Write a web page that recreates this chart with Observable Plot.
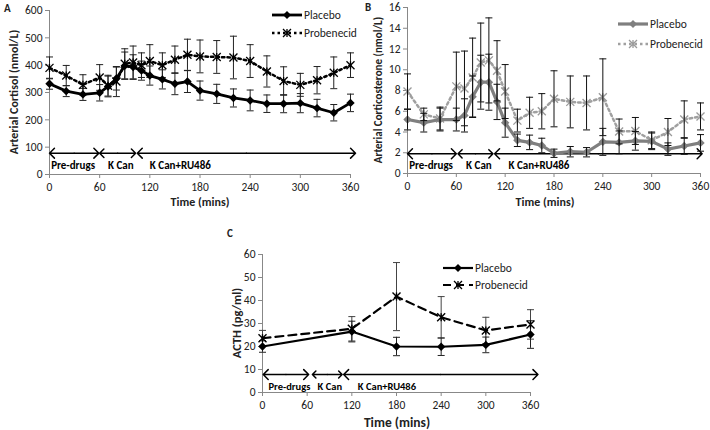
<!DOCTYPE html>
<html><head><meta charset="utf-8">
<script src="https://cdn.jsdelivr.net/npm/d3@7"></script>
<script src="https://cdn.jsdelivr.net/npm/@observablehq/plot@0.6"></script>
<style>
body{margin:0;background:#fff;width:710px;height:430px;position:relative;overflow:hidden;font-family:Carlito,Calibri,Lato,sans-serif;color:#222;}
.abs{position:absolute;}
.ytitle{position:absolute;font-weight:bold;white-space:nowrap;transform:translate(-50%,-50%) rotate(-90deg);}
.xtitle{position:absolute;font-weight:bold;white-space:nowrap;transform:translate(-50%,-50%);}
.letter{position:absolute;font-weight:bold;font-size:11px;}
</style></head><body>
<div id="A" class="abs" style="left:0;top:0"></div>
<div id="B" class="abs" style="left:355px;top:2px"></div>
<div id="C" class="abs" style="left:200px;top:240px"></div>
<div class="letter" style="left:4px;top:2px">A</div>
<div class="letter" style="left:365px;top:1px">B</div>
<div class="letter" style="left:227px;top:227px">C</div>
<div class="ytitle" style="left:14px;top:92px;font-size:12px">Arterial Cortisol (nmol/L)</div>
<div class="ytitle" style="left:378px;top:90px;font-size:11px">Arterial Corticosterone (nmol/L)</div>
<div class="ytitle" style="left:236px;top:323px;font-size:12.5px">ACTH (pg/ml)</div>
<div class="xtitle" style="left:200px;top:202px;font-size:12px">Time (mins)</div>
<div class="xtitle" style="left:545px;top:202px;font-size:12px">Time (mins)</div>
<div class="xtitle" style="left:397px;top:422px;font-size:13.5px">Time (mins)</div>
<script>
// ---------- data ----------
const timesAB = [0,20,40,60,70,80,90,100,110,120,135,150,165,180,200,220,240,260,280,300,320,340,360];
const cortisolPlacebo      = [332,305,293,299,322,351,398,393,380,362,348,332,340,307,295,280,271,259,259,261,243,226,262];
const cortisolPlaceboSE    = [20,20,22,30,38,42,50,45,35,35,35,40,40,35,35,33,38,32,33,35,32,30,32];
const cortisolProbenecid   = [390,362,328,355,325,340,405,410,400,415,400,420,438,432,430,428,415,377,342,328,345,372,400];
const cortisolProbenecidSE = [40,37,37,47,38,55,55,60,45,60,45,50,57,60,60,78,60,57,52,42,50,58,45];

const corticoPlacebo      = [5.2,4.9,5.2,5.2,5.6,7.4,8.8,8.8,6.9,4.9,3.2,3.0,2.7,1.95,2.1,2.05,3.05,3.0,3.15,3.1,2.35,2.65,2.95];
const corticoPlaceboSE    = [1.0,0.9,1.1,1.1,1.6,2.0,2.6,2.7,1.7,1.4,0.6,0.7,0.7,0.4,0.5,0.45,1.3,1.1,0.9,0.8,0.6,0.8,0.8];
const corticoProbenecid   = [7.9,5.7,5.3,8.4,8.2,9.25,10.7,10.9,9.9,7.9,5.1,5.85,6.0,7.2,6.9,6.8,7.35,4.05,4.1,3.2,4.0,5.2,5.5];
const corticoProbenecidSE = [1.7,0.6,1.1,3.3,3.6,3.8,3.8,4.1,2.9,2.6,1.1,1.5,1.7,2.7,2.5,2.6,3.7,1.2,1.3,0.8,1.3,1.8,1.3];

const timesC = [0,120,180,240,300,360];
const acthPlacebo      = [20.0,26.5,20.0,19.9,20.7,25.2];
const acthPlaceboSE    = [2.5,4.5,4.0,3.8,3.4,6.0];
const acthProbenecid   = [23.6,27.7,41.7,32.7,27.0,29.6];
const acthProbenecidSE = [3.4,5.3,14.8,9.0,5.7,6.4];

const phaseNames = ["Pre-drugs","K Can","K Can+RU486"];
const phaseStartA = [0,60,105],  phaseEndA = [59,103,366], phaseLabelA = [2,70,120];
const phaseStartB = [0,62,107],  phaseEndB = [60,105,362], phaseLabelB = [2,72,124];
const phaseStartC = [1,67,109],  phaseEndC = [62,107,370], phaseLabelC = [8,74,128];
const arrowLevelA = 78, arrowLevelB = 1.9, arrowLevelC = 7.8;

const xTicks = [0,60,120,180,240,300,360];
const yTicksA = [0,100,200,300,400,500,600];
const yTicksB = [0,2,4,6,8,10,12,14,16];
const yTicksC = [0,10,20,30,40,50,60];

// ---------- symbols ----------
const rOf = s => Math.sqrt(s/Math.PI);
const starSym = {draw(c,s){const r=rOf(s);c.moveTo(-r,-r);c.lineTo(r,r);c.moveTo(-r,r);c.lineTo(r,-r);c.moveTo(0,-r);c.lineTo(0,r);}};
const capSym  = {draw(c,s){const r=rOf(s);c.moveTo(-r,0);c.lineTo(r,0);}};
const diamSym = {draw(c,s){const r=rOf(s);c.moveTo(0,-r);c.lineTo(r,0);c.lineTo(0,r);c.lineTo(-r,0);c.closePath();}};

function rows(t, v, se){ return t.map((x,i)=>({x, y:v[i], lo:v[i]-se[i], hi:v[i]+se[i]})); }
function phases(start,end,lab,level){
  return phaseNames.map((name,i)=>({name, x1:start[i], x2:end[i], mid:(start[i]+end[i])/2, lx:lab[i], y:level}));
}
function errorMarks(d, color, capR){
  return [
    Plot.ruleX(d,{x:"x",y1:"lo",y2:"hi",stroke:color,strokeWidth:1}),
    Plot.dot(d,{x:"x",y:"hi",symbol:capSym,r:capR,stroke:color,strokeWidth:1}),
    Plot.dot(d,{x:"x",y:"lo",symbol:capSym,r:capR,stroke:color,strokeWidth:1})
  ];
}
function arrowMarks(ph, labelSize){
  return [
    Plot.arrow(ph,{x1:"mid",x2:"x2",y1:"y",y2:"y",stroke:"#000",strokeWidth:1.5,headLength:7,headAngle:90}),
    Plot.arrow(ph,{x1:"mid",x2:"x1",y1:"y",y2:"y",stroke:"#000",strokeWidth:1.5,headLength:7,headAngle:90}),
    Plot.text(ph,{x:"lx",y:"y",text:"name",dy:12,textAnchor:"start",fontWeight:"bold",fontSize:labelSize,fill:"#000"})
  ];
}
function axes(yTicks){
  return [
    Plot.axisX({ticks:xTicks,tickSize:4,tickPadding:4,stroke:"#888",fill:"#222",label:null,fontSize:11.5}),
    Plot.axisY({ticks:yTicks,tickSize:4,tickPadding:3,stroke:"#888",fill:"#222",label:null,fontSize:11.5}),
    Plot.ruleX([0],{stroke:"#888"}),
    Plot.ruleY([0],{stroke:"#888"})
  ];
}
const font = {fontFamily:"Carlito,Calibri,Lato,sans-serif",fontSize:"11px",background:"transparent",overflow:"visible"};

// ---------- Panel A ----------
const aP = rows(timesAB,cortisolPlacebo,cortisolPlaceboSE);
const aR = rows(timesAB,cortisolProbenecid,cortisolProbenecidSE);
document.getElementById("A").append(Plot.plot({
  width:355,height:205,marginLeft:49,marginRight:5,marginTop:10,marginBottom:31,
  style:font,
  x:{domain:[0,360]}, y:{domain:[0,600]},
  marks:[
    ...axes(yTicksA),
    ...arrowMarks(phases(phaseStartA,phaseEndA,phaseLabelA,arrowLevelA),11),
    ...errorMarks(aR,"#222",3.5),
    ...errorMarks(aP,"#222",3.5),
    Plot.line(aR,{x:"x",y:"y",stroke:"#000",strokeWidth:2.5,strokeDasharray:"2.5,3"}),
    Plot.dot(aR,{x:"x",y:"y",symbol:starSym,r:4,stroke:"#000",strokeWidth:1.3}),
    Plot.line(aP,{x:"x",y:"y",stroke:"#000",strokeWidth:2.8}),
    Plot.dot(aP,{x:"x",y:"y",symbol:diamSym,r:4.2,fill:"#000",stroke:"none"})
  ]
}));

// ---------- Panel B ----------
const bP = rows(timesAB,corticoPlacebo,corticoPlaceboSE);
const bR = rows(timesAB,corticoProbenecid,corticoProbenecidSE);
document.getElementById("B").append(Plot.plot({
  width:355,height:198,marginLeft:52,marginRight:10,marginTop:5,marginBottom:27,
  style:font,
  x:{domain:[0,360]}, y:{domain:[0,16]},
  marks:[
    ...axes(yTicksB),
    ...arrowMarks(phases(phaseStartB,phaseEndB,phaseLabelB,arrowLevelB),11),
    Plot.line(bR,{x:"x",y:"y",stroke:"#a0a0a0",strokeWidth:2.5,strokeDasharray:"2.5,3"}),
    Plot.dot(bR,{x:"x",y:"y",symbol:starSym,r:4,stroke:"#9a9a9a",strokeWidth:1.3}),
    Plot.line(bP,{x:"x",y:"y",stroke:"#7f7f7f",strokeWidth:3.2}),
    Plot.dot(bP,{x:"x",y:"y",symbol:diamSym,r:4.2,fill:"#7f7f7f",stroke:"none"}),
    ...errorMarks(bR,"#111",3.5),
    ...errorMarks(bP,"#111",3.5)
  ]
}));

// ---------- Panel C ----------
const cP = rows(timesC,acthPlacebo,acthPlaceboSE);
const cR = rows(timesC,acthProbenecid,acthProbenecidSE);
document.getElementById("C").append(Plot.plot({
  width:340,height:174,marginLeft:62,marginRight:10,marginTop:14,marginBottom:22,
  style:font,
  x:{domain:[0,360]}, y:{domain:[0,60]},
  marks:[
    ...axes(yTicksC),
    ...arrowMarks(phases(phaseStartC,phaseEndC,phaseLabelC,arrowLevelC),10.5),
    ...errorMarks(cR,"#444",3.5),
    ...errorMarks(cP,"#222",3.5),
    Plot.line(cR,{x:"x",y:"y",stroke:"#000",strokeWidth:2.2,strokeDasharray:"8,5"}),
    Plot.dot(cR,{x:"x",y:"y",symbol:starSym,r:4,stroke:"#000",strokeWidth:1.4}),
    Plot.line(cP,{x:"x",y:"y",stroke:"#000",strokeWidth:2.2}),
    Plot.dot(cP,{x:"x",y:"y",symbol:diamSym,r:4.2,fill:"#000",stroke:"none"})
  ]
}));

// ---------- legends (HTML overlays) ----------
const seriesNames = ["Placebo","Probenecid"];
function legend(left, top, gap, styles, fs){
  const box = d3.select("body").append("div").attr("class","abs").style("left",left+"px").style("top",top+"px");
  const svg = box.append("svg").attr("width",110).attr("height",gap+14).style("overflow","visible");
  seriesNames.forEach((name,i)=>{
    const st = styles[i], y = 7 + i*gap;
    const g = svg.append("g");
    g.append("line").attr("x1",0).attr("x2",30).attr("y1",y).attr("y2",y)
      .attr("stroke",st.color).attr("stroke-width",st.width).attr("stroke-dasharray",st.dash||null);
    const sym = d3.symbol(st.sym, Math.PI*16)();
    g.append("path").attr("d",sym).attr("transform",`translate(15,${y})`)
      .attr("fill",st.fill).attr("stroke",st.stroke||"none").attr("stroke-width",1.3);
    g.append("text").attr("x",32).attr("y",y).attr("dy","0.35em").attr("font-size",fs)
      .attr("font-family","Carlito,Calibri,Lato,sans-serif").attr("fill","#222").text(name);
  });
}
legend(272, 8, 18, [
  {color:"#000",width:2.8,sym:diamSym,fill:"#000"},
  {color:"#000",width:2.5,dash:"2.5,3",sym:starSym,fill:"none",stroke:"#000"}
], 11.5);
legend(618, 17, 20, [
  {color:"#7f7f7f",width:3.2,sym:diamSym,fill:"#7f7f7f"},
  {color:"#a0a0a0",width:2.5,dash:"2.5,3",sym:starSym,fill:"none",stroke:"#9a9a9a"}
], 11.5);
legend(443, 261, 17, [
  {color:"#000",width:2.2,sym:diamSym,fill:"#000"},
  {color:"#000",width:2.2,dash:"8,5",sym:starSym,fill:"none",stroke:"#000"}
], 11.5);
</script>
</body></html>
